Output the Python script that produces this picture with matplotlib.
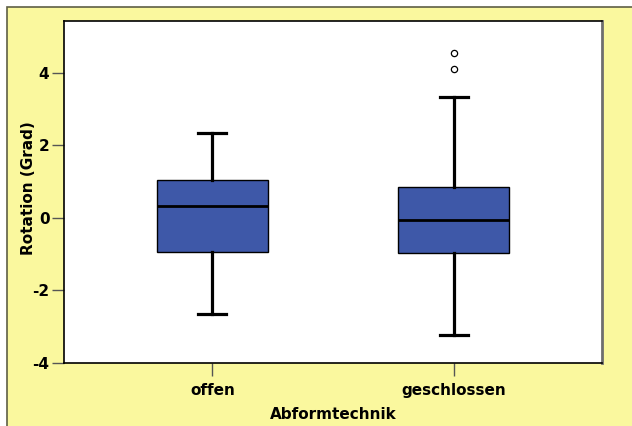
import matplotlib
matplotlib.use("Agg")
import matplotlib.pyplot as plt
from matplotlib.patches import Rectangle

# Five-number summaries per impression technique
categories = ["offen", "geschlossen"]
whisker_low = [-2.65, -3.23]
quartile_1 = [-0.93, -0.97]
medians = [0.34, -0.07]
quartile_3 = [1.04, 0.86]
whisker_high = [2.33, 3.33]
outliers = [[], [4.10, 4.56]]
y_ticks = [-4, -2, 0, 2, 4]

plt.rcParams["font.family"] = ["DejaVu Sans"]
plt.rcParams["font.weight"] = "bold"

W, H = 632, 426
fig = plt.figure(figsize=(W / 100, H / 100), dpi=100, facecolor="white")

# Yellow chart background with a dark frame on top and left
bg = Rectangle((7 / W, -0.2), 1.5, (H - 7) / H + 0.2, transform=fig.transFigure,
               facecolor="#FAF89E", edgecolor="#5f5f45", linewidth=1.2, zorder=-10)
fig.patches.append(bg)

ax = fig.add_axes([64 / W, 1 - 363 / H, (602 - 64) / W, (363 - 21) / H])
ax.set_facecolor("white")

stats = []
for i, name in enumerate(categories):
    stats.append({
        "label": name,
        "whislo": whisker_low[i],
        "q1": quartile_1[i],
        "med": medians[i],
        "q3": quartile_3[i],
        "whishi": whisker_high[i],
        "fliers": outliers[i],
    })

ax.bxp(stats, positions=[1, 2], widths=0.462, patch_artist=True,
       showfliers=True,
       boxprops=dict(facecolor="#3E58A8", edgecolor="black", linewidth=1.0),
       medianprops=dict(color="black", linewidth=2.0),
       whiskerprops=dict(color="black", linewidth=2.3),
       capprops=dict(color="black", linewidth=2.3),
       capwidths=0.116,
       flierprops=dict(marker="o", markersize=4.5, markerfacecolor="white",
                       markeredgecolor="black", markeredgewidth=0.9))

ax.set_xlim(0.385, 2.615)
ax.set_ylim(-4, 5.43)
ax.set_yticks(y_ticks)
ax.set_yticklabels([str(t) for t in y_ticks])
ax.set_xticks([1, 2])
ax.set_xticklabels(categories)

ax.tick_params(axis="both", direction="out", length=9, width=1, color="#555555",
               labelsize=11, labelcolor="black")
ax.tick_params(axis="x", pad=5.5)
ax.tick_params(axis="y", pad=1.5)
for lab in ax.get_xticklabels() + ax.get_yticklabels():
    lab.set_fontweight("bold")

for side in ["top", "bottom", "left"]:
    ax.spines[side].set_color("black")
    ax.spines[side].set_linewidth(1.2)
ax.spines["right"].set_color("#6e6e6e")
ax.spines["right"].set_linewidth(2)

ax.set_ylabel("Rotation (Grad)", fontsize=11, fontweight="bold")
ax.set_xlabel("Abformtechnik", fontsize=11, fontweight="bold")
ax.yaxis.set_label_coords(-0.052, 0.512)
ax.xaxis.set_label_coords(0.5, -0.128)

fig.savefig("out.png", dpi=100, facecolor=fig.get_facecolor())
